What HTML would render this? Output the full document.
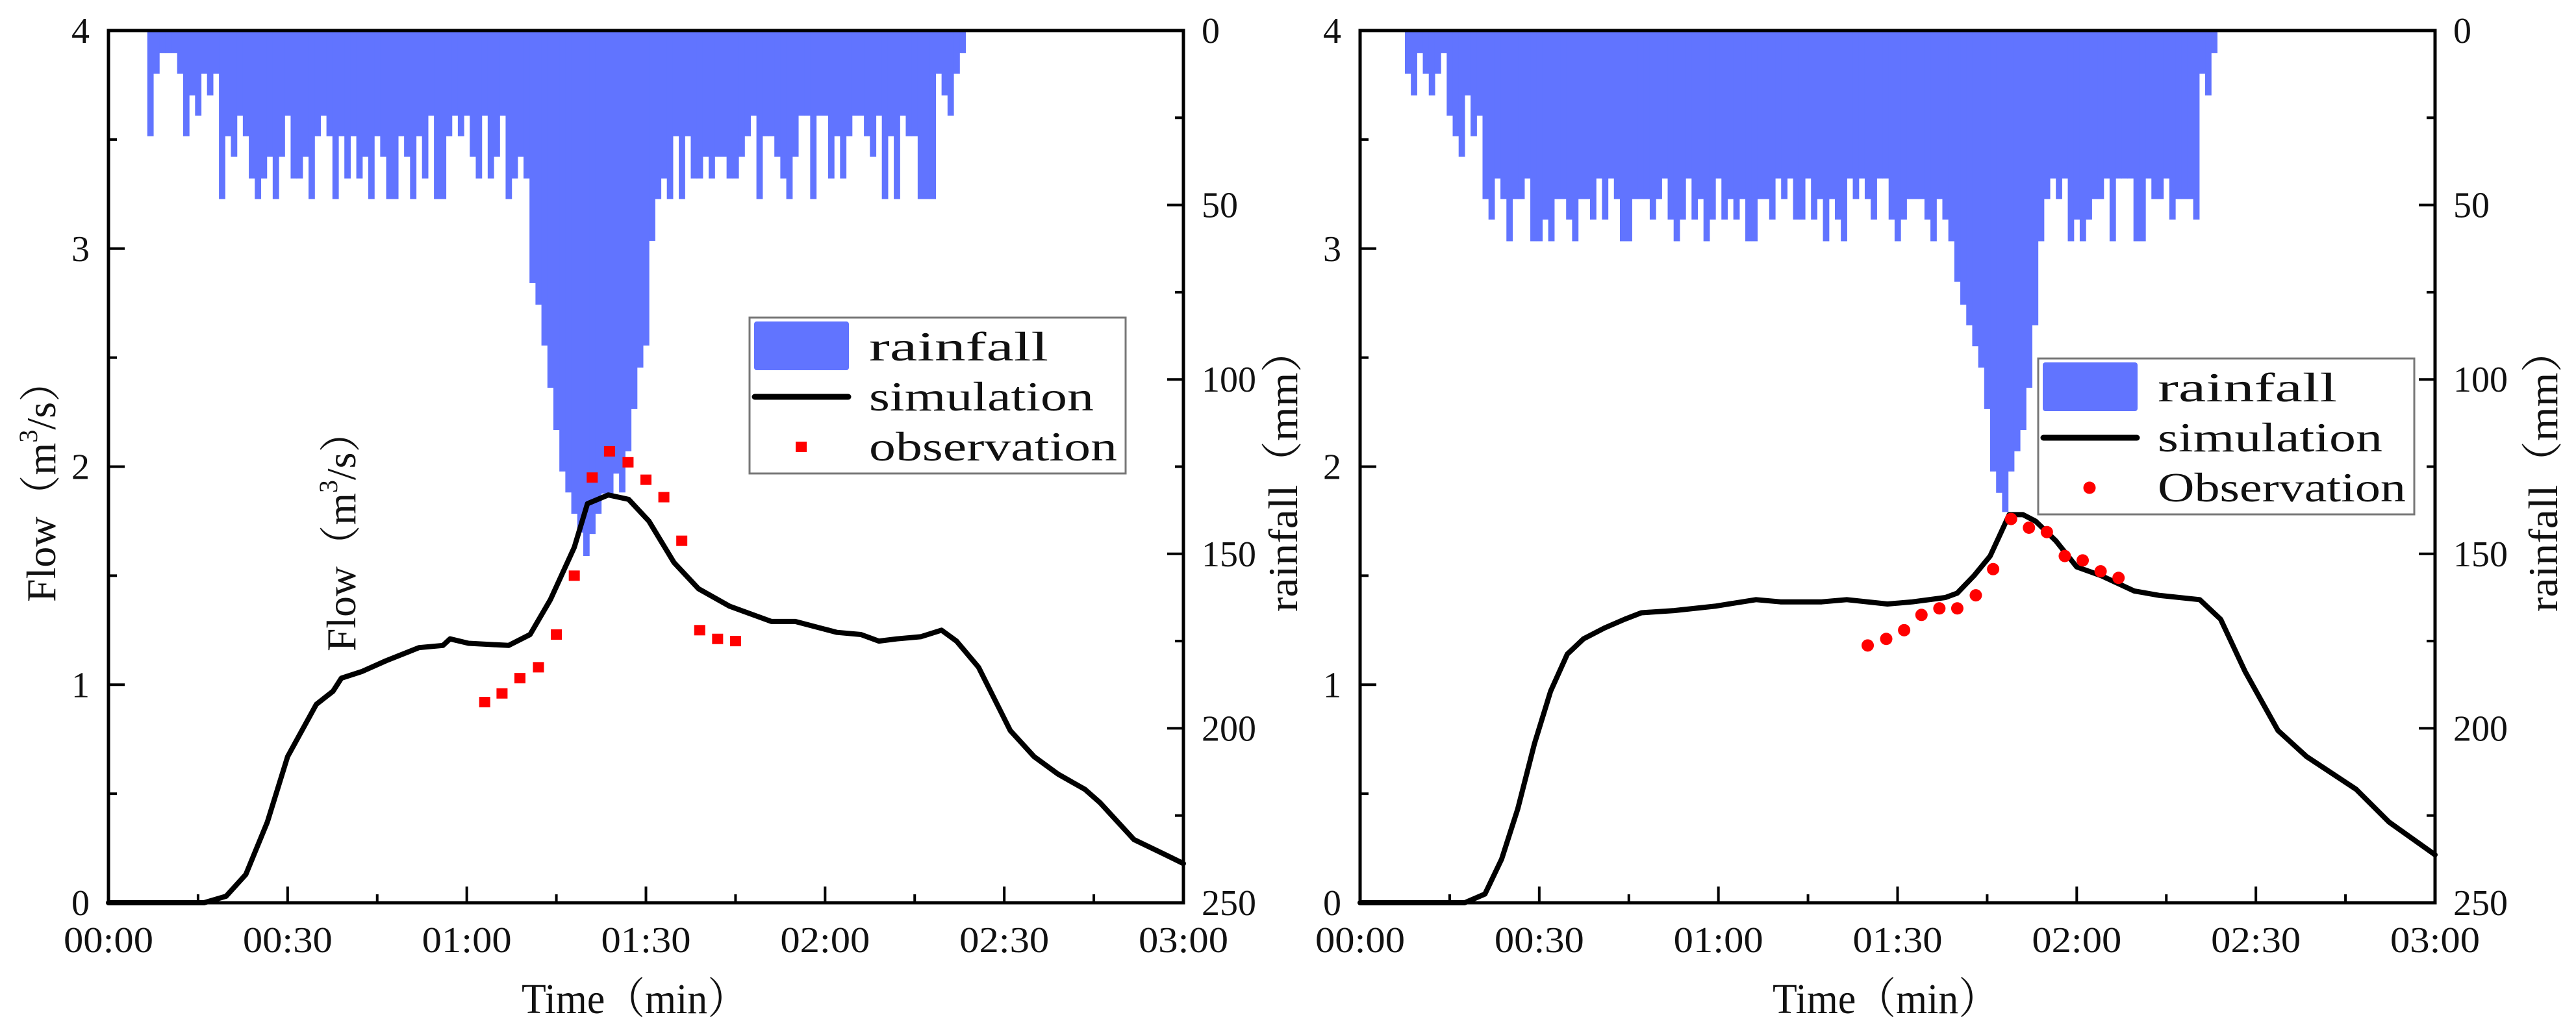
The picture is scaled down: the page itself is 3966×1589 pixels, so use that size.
<!DOCTYPE html>
<html><head><meta charset="utf-8"><style>
html,body{margin:0;padding:0;background:#fff;}
svg{display:block;}
text{font-family:"Liberation Serif","Noto Serif CJK SC",serif;fill:#111;}
</style></head><body>
<svg id="root" width="3966" height="1589" viewBox="0 0 3966 1589" xmlns="http://www.w3.org/2000/svg"></svg>
<script>
// ---- data ----
const leftRainStart = 7;
const leftRain = [30.3,12.4,6.5,6.5,6.5,12.4,30.3,18.6,24.4,12.4,18.6,12.4,48.3,30.3,36.2,24.4,30.3,42.4,48.3,42.4,36.2,48.3,36.2,24.4,42.4,42.4,36.2,48.3,30.3,24.4,30.3,48.3,30.3,42.4,30.3,42.4,36.2,48.3,30.3,36.2,48.3,48.3,30.3,36.2,48.3,30.3,42.4,24.4,48.3,48.3,30.3,24.4,30.3,24.4,36.2,42.4,24.4,42.4,36.2,24.4,48.3,42.4,36.2,42.4,
72.4,78.6,90.3,102.4,114.5,126.4,132.4,138.5,143.9,150.6,144.3,138.5,132.7,132.7,127,132.4,120.6,108.5,96.6,90.3,60.3,48.3,
42.4,48.3,30.3,48.3,30.3,42.4,42.4,36.2,42.4,36.2,36.2,42.4,42.4,36.2,30.3,24.4,48.3,30.3,30.3,36.2,42.4,48.3,36.2,24.4,24.4,48.3,24.4,24.4,42.4,30.3,42.4,30.3,24.4,24.4,30.3,36.2,24.4,48.3,30.3,48.3,24.4,30.3,30.3,48.3,48.3,48.3,12.4,18.6,24.4,12.4,6.5];
const rightRainStart = 8;
const rightRain = [12.4,18.6,6.5,12.4,18.6,12.4,6.5,24.4,30.3,36.2,18.6,30.3,24.4,48.3,54.2,42.4,48.3,60.4,48.3,48.3,42.4,60.4,60.4,54.2,60.4,48.3,48.3,54.2,60.4,48.3,48.3,54.2,42.4,54.2,42.4,48.3,60.4,60.4,48.3,48.3,48.3,54.2,48.3,42.4,54.2,60.4,54.2,42.4,54.2,48.3,60.4,54.2,42.4,54.2,48.3,54.2,48.3,60.4,60.4,48.3,48.3,54.2,42.4,48.3,42.4,54.2,54.2,42.4,
54.2,48.3,60.4,48.3,54.2,60.4,42.4,48.3,42.4,48.3,54.2,42.4,42.4,54.2,60.4,54.2,48.3,48.3,48.3,54.2,60.4,48.3,54.2,60.4,
72,78.6,84.5,90.5,96.6,108.5,126.4,132.5,138,126.4,120.6,114.5,102.4,84.5,60.4,
48.3,42.4,48.3,42.4,60.4,54.2,60.4,54.2,48.3,48.3,42.4,60.4,42.4,42.4,42.4,60.4,60.4,42.4,48.3,48.3,42.4,54.2,48.3,48.3,48.3,54.2,12.4,18.6,6.5];
const leftSimT = [0,16,19.7,23,26.6,30,34.8,37.6,39,42.4,46.5,52,56,57.2,60.3,67,70.6,74,78,80.2,83.7,87.1,90.5,94.7,98.8,104,111,115,122,126,129,132,136,139.5,142,145.7,151,155,159,163.5,166,171.7,177,180];
const leftSimQ = [0,0,0.03,0.13,0.37,0.67,0.91,0.97,1.03,1.06,1.11,1.17,1.18,1.21,1.19,1.18,1.23,1.39,1.63,1.83,1.87,1.85,1.75,1.56,1.44,1.36,1.29,1.29,1.24,1.23,1.20,1.21,1.22,1.25,1.20,1.08,0.79,0.67,0.59,0.52,0.46,0.29,0.22,0.18];
const leftObsT = [63,65.9,68.9,72,75,78,81,83.9,87,90,93,96,99,102,105];
const leftObsQ = [0.92,0.96,1.03,1.08,1.23,1.50,1.95,2.07,2.02,1.94,1.86,1.66,1.25,1.21,1.20];
const rightSimT = [0,17.5,20.9,23.7,26.4,29.2,31.9,34.7,37.4,40.9,44.3,47.1,52.6,59.4,66.3,70.4,77.3,81.5,88.3,92.5,98,100,102.8,105.5,108.7,111,113.1,116.5,120,124.1,129.6,133.7,140.6,144.1,148.2,153.7,158.5,166.8,172.3,180];
const rightSimQ = [0,0,0.04,0.20,0.43,0.73,0.97,1.14,1.21,1.26,1.30,1.33,1.34,1.36,1.39,1.38,1.38,1.39,1.37,1.38,1.40,1.42,1.50,1.59,1.78,1.78,1.75,1.66,1.54,1.50,1.43,1.41,1.39,1.30,1.06,0.79,0.67,0.52,0.37,0.22];
const rightObsT = [85,88.1,91.1,94,97,100,103.1,106,109,112,115,118,121,124,127];
const rightObsQ = [1.18,1.21,1.25,1.32,1.35,1.35,1.41,1.53,1.76,1.72,1.70,1.59,1.57,1.52,1.49];
const timeTicks = ["00:00","00:30","01:00","01:30","02:00","02:30","03:00"];
const flowTicks = ["0","1","2","3","4"];
const rainTicks = ["0","50","100","150","200","250"];

const NS = "http://www.w3.org/2000/svg";
const root = document.getElementById('root');
const RAIN = "#6174ff";
function mk(tag, attrs, parent){const e=document.createElementNS(NS,tag);for(const k in attrs)e.setAttribute(k,attrs[k]);(parent||root).appendChild(e);return e;}

function drawChart(cfg){
  const X0=cfg.x0, X1=cfg.x0+1655, YT=47, YB=1390;
  const g = mk('g',{});
  
  
  const xs = t => X0 + (t/180)*(X1-X0);
  const yq = q => YB - (q/4)*(YB-YT);
  const yr = r => YT + (r/250)*(YB-YT);
  const rg = mk('g',{},g);
  
  
  cfg.rain.forEach((v,i)=>{
    const m = cfg.rainStart + i;
    const x = xs(m-0.5);
    const r = mk('rect',{x:x, y:YT, width:xs(m+0.5)-x+0.6, height:yr(v)-YT, fill:RAIN},rg);
    
    
  });
  let d='';
  cfg.simT.forEach((t,i)=>{d+=(i?'L':'M')+xs(t).toFixed(1)+' '+yq(cfg.simQ[i]).toFixed(1);});
  const sim = mk('path',{d:d, fill:'none', stroke:'#000', 'stroke-width':8, 'stroke-linejoin':'round','stroke-linecap':'round'},g);
  
  
  cfg.obsT.forEach((t,i)=>{
    let p;
    if(cfg.square) p = mk('rect',{x:xs(t)-8.5, y:yq(cfg.obsQ[i])-8, width:17, height:16, fill:'#ff0000'},g);
    else p = mk('ellipse',{cx:xs(t), cy:yq(cfg.obsQ[i]), rx:9.5, ry:9.5, fill:'#ff0000'},g);
    
    
  });
  const fr = mk('rect',{x:X0, y:YT, width:X1-X0, height:YB-YT, fill:'none', stroke:'#000', 'stroke-width':5},g);
  
  
  for(let t=0;t<=180;t+=15){
    const major = t%30===0;
    const tk = mk('line',{x1:xs(t),x2:xs(t),y1:YB,y2:YB-(major?25:13),stroke:'#000','stroke-width':4},g);
    
    
  }
  timeTicks.forEach((s,i)=>{
    const tx = mk('text',{x:xs(i*30), y:1466, 'font-size':56, 'text-anchor':'middle', textLength:138, lengthAdjust:'spacingAndGlyphs'},g);
    tx.textContent = s;
    
    
  });
  for(let q=0;q<=4;q+=0.5){
    const major = Math.abs(q-Math.round(q))<1e-6;
    const tk = mk('line',{x1:X0,x2:X0+(major?25:13),y1:yq(q),y2:yq(q),stroke:'#000','stroke-width':4},g);
    
    
  }
  flowTicks.forEach((s,i)=>{
    const tx = mk('text',{x:X0-29, y:yq(+s)+19, 'font-size':56, 'text-anchor':'end'},g);
    tx.textContent = s;
    
    
  });
  for(let r=0;r<=250;r+=25){
    const major = r%50===0;
    const tk = mk('line',{x1:X1,x2:X1-(major?25:13),y1:yr(r),y2:yr(r),stroke:'#000','stroke-width':4},g);
    
    
  }
  rainTicks.forEach((s)=>{
    const tx = mk('text',{x:X1+28, y:yr(+s)+19, 'font-size':56, 'text-anchor':'start'},g);
    tx.textContent = s;
    
    
  });
  const xt = mk('text',{x:cfg.xTitleX, y:1560, 'font-size':66, 'text-anchor':'middle', textLength:348, lengthAdjust:'spacingAndGlyphs'},g);
  xt.textContent = 'Time（min）';
  
  
  const L = cfg.legend;
  const lg = mk('g',{},g);
  
  
  mk('rect',{x:L.x, y:L.y, width:579, height:240, fill:'#fff', stroke:'#777', 'stroke-width':3},lg);
  const lp = mk('rect',{x:L.x+7, y:L.y+6, width:146, height:75, rx:4, fill:RAIN},lg);
  
  
  const ll = mk('line',{x1:L.x+8, x2:L.x+152, y1:L.y+122, y2:L.y+122, stroke:'#000','stroke-width':9,'stroke-linecap':'round'},lg);
  
  
  let lm;
  if(cfg.square) lm = mk('rect',{x:L.x+71, y:L.y+191, width:17, height:16, fill:'#ff0000'},lg);
  else lm = mk('ellipse',{cx:L.x+79, cy:L.y+199, rx:9.5, ry:9.5, fill:'#ff0000'},lg);
  
  
  const labels = ['rainfall','simulation',cfg.obsLabel];
  const lens = [276,346,382];
  labels.forEach((s,i)=>{
    const tx = mk('text',{x:L.x+184, y:L.y+66+i*77, 'font-size':64, textLength:lens[i], lengthAdjust:'spacingAndGlyphs'},lg);
    tx.textContent = s;
    
    
  });
}

function vtext(name, cx, cy, len, parts){
  const tx = mk('text',{x:0, y:0, 'font-size':64, 'text-anchor':'middle', 'dominant-baseline':'central', transform:`translate(${cx},${cy}) rotate(-90)`, textLength:len, lengthAdjust:'spacingAndGlyphs'});
  
  
  parts.forEach(p=>{
    const ts = mk('tspan', p.sup?{dy:-20,'font-size':40}:(p.after?{dy:20}:{}), tx);
    ts.textContent = p.s;
  });
}

drawChart({name:'left-chart', x0:167, rain:leftRain, rainStart:leftRainStart, simT:leftSimT, simQ:leftSimQ, obsT:leftObsT, obsQ:leftObsQ, square:true, obsLabel:'observation', legend:{x:1154,y:489}, xTitleX:977});
drawChart({name:'right-chart', x0:2094, rain:rightRain, rainStart:rightRainStart, simT:rightSimT, simQ:rightSimQ, obsT:rightObsT, obsQ:rightObsQ, square:false, obsLabel:'Observation', legend:{x:3138,y:552}, xTitleX:2903});

vtext('left-y-axis-title', 63, 741, 372, [{s:'Flow（m'},{s:'3',sup:true},{s:'/s）',after:true}]);
vtext('stray-flow-label', 525, 818, 370, [{s:'Flow（m'},{s:'3',sup:true},{s:'/s）',after:true}]);
vtext('left-rainfall-axis-title', 1975, 724, 436, [{s:'rainfall（mm）'}]);
vtext('right-rainfall-axis-title', 3915, 724, 436, [{s:'rainfall（mm）'}]);
</script>
</body></html>
